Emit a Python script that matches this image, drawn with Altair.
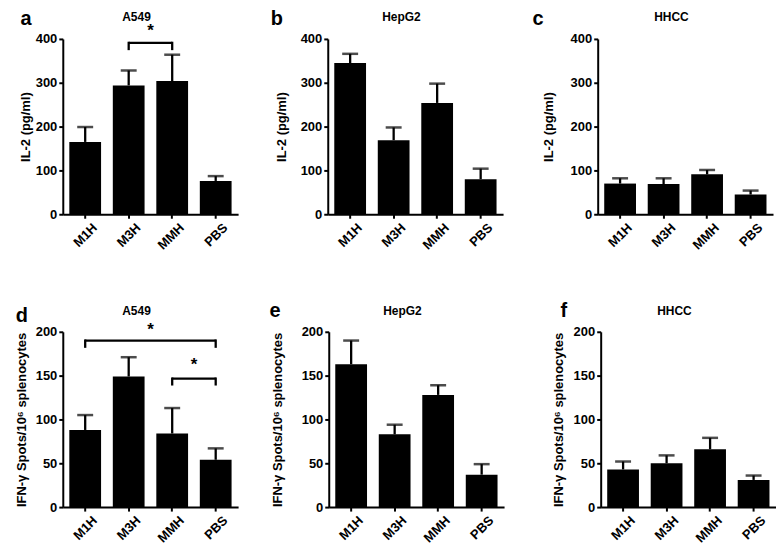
import altair as alt
import pandas as pd

# ---------------- data ----------------
categories = ["M1H", "M3H", "MMH", "PBS"]

il2_a549_mean = [165, 294, 304, 76]
il2_a549_sem = [34, 34, 60, 11]
il2_hepg2_mean = [345, 169, 254, 80]
il2_hepg2_sem = [21, 29, 44, 24]
il2_hhcc_mean = [70, 69, 91, 45]
il2_hhcc_sem = [12, 13, 10, 9]

ifn_a549_mean = [88, 149, 84, 54]
ifn_a549_sem = [17, 22, 29, 13]
ifn_hepg2_mean = [163, 83, 128, 37]
ifn_hepg2_sem = [27, 11, 11, 12]
ifn_hhcc_mean = [43, 50, 66, 31]
ifn_hhcc_sem = [9, 9, 13, 5]

il2_ticks = [0, 100, 200, 300, 400]
ifn_ticks = [0, 50, 100, 150, 200]

il2_title = "IL-2 (pg/ml)"
ifn_title = "IFN-\u03b3 Spots/10\u2076 splenocytes"

# significance brackets: start group, end group, bar level, end-drop level, star level, star group
a549_il2_brackets = [("M3H", "MMH", 391, 377, 417, "MMH")]
a549_ifn_brackets = [("M1H", "PBS", 190, 183, 202, "MMH"),
                     ("MMH", "PBS", 146.6, 140, 162, "PBS")]

# ---------------- styling ----------------
FONT = "Liberation Sans"
W, H = 176, 176
PI, PO = 0.27, 0.15
STEP = W / (4 - PI + 2 * PO)


def panel(letter, name, mean, sem, ticks, ytitle, brackets, letter_xy,
          title_y, left_extent, title_pad):
    df = pd.DataFrame({"group": categories, "mean": mean,
                       "top": [m + s for m, s in zip(mean, sem)]})
    xscale = alt.Scale(domain=categories, paddingInner=PI, paddingOuter=PO)
    yscale = alt.Scale(domain=[ticks[0], ticks[-1]], nice=False)
    xaxis = alt.Axis(title=None, labelAngle=-45, labelAlign="right",
                     labelBaseline="middle", labelFont=FONT, labelFontSize=13,
                     labelFontWeight="bold", labelColor="black",
                     labelPadding=7, labelOffset=10,
                     domainColor="black", domainWidth=2, tickColor="black",
                     tickWidth=2, tickSize=4, grid=False)
    yaxis = alt.Axis(title=ytitle, values=ticks, labelFont=FONT,
                     labelFontSize=13, labelFontWeight="bold",
                     labelColor="black", labelPadding=2,
                     titleFont=FONT, titleFontSize=13, titleFontWeight="bold",
                     titleColor="black", titlePadding=title_pad,
                     domainColor="black", domainWidth=2, tickColor="black",
                     tickWidth=2, tickSize=4, grid=False)
    base = alt.Chart(df)
    bars = base.mark_bar(color="black").encode(
        x=alt.X("group:N", scale=xscale, axis=xaxis),
        y=alt.Y("mean:Q", scale=yscale, axis=yaxis, title=ytitle))
    err = base.mark_rule(color="black", strokeWidth=2.3).encode(
        x=alt.X("group:N", title=None),
        y=alt.Y("mean:Q", title=ytitle), y2="top:Q")
    caps = base.mark_tick(color="black", orient="horizontal", size=16,
                          thickness=2.5).encode(
        x=alt.X("group:N", title=None), y=alt.Y("top:Q", title=ytitle))

    layers = [bars, err, caps]

    if brackets:
        br = pd.DataFrame(brackets, columns=["g1", "g2", "level", "low",
                                             "star", "starg"])
        drops = pd.DataFrame(
            [(b[0], b[2], b[3]) for b in brackets] +
            [(b[1], b[2], b[3]) for b in brackets],
            columns=["g", "level", "low"])
        hline = alt.Chart(br).mark_rule(color="black", strokeWidth=2.3).encode(
            x=alt.X("g1:N", title=None), x2="g2:N",
            y=alt.Y("level:Q", title=ytitle))
        vline = alt.Chart(drops).mark_rule(color="black", strokeWidth=2.3,
                                           strokeCap="square").encode(
            x=alt.X("g:N", title=None),
            y=alt.Y("level:Q", title=ytitle), y2="low:Q")
        stars = alt.Chart(br).mark_text(
            text="*", dx=-STEP / 2, font=FONT, fontSize=17, fontWeight="bold",
            color="black", baseline="middle").encode(
            x=alt.X("starg:N", title=None), y=alt.Y("star:Q", title=ytitle))
        layers += [hline, vline, stars]

    lab = pd.DataFrame({"t": [letter], "n": [name], "m": ["."]})
    letter_mark = alt.Chart(lab).mark_text(
        font=FONT, fontSize=20, fontWeight="bold", color="black",
        align="center", baseline="middle").encode(
        text="t:N", x=alt.value(letter_xy[0]), y=alt.value(letter_xy[1]))
    title_mark = alt.Chart(lab).mark_text(
        font=FONT, fontSize=12, fontWeight="bold", color="black",
        align="center", baseline="middle").encode(
        text="n:N", x=alt.value(74), y=alt.value(title_y))
    marker = alt.Chart(lab).mark_text(
        font=FONT, fontSize=8, color="white", align="left",
        baseline="middle").encode(
        text="m:N", x=alt.value(-left_extent), y=alt.value(0))
    layers += [letter_mark, title_mark, marker]

    return alt.layer(*layers).properties(width=W, height=H)


pa = panel("a", "A549", il2_a549_mean, il2_a549_sem, il2_ticks, il2_title,
           a549_il2_brackets, (-37, -20), -22, 43.5, 3)
pb = panel("b", "HepG2", il2_hepg2_mean, il2_hepg2_sem, il2_ticks, il2_title,
           None, (-51, -20), -22, 62, 12)
pc = panel("c", "HHCC", il2_hhcc_mean, il2_hhcc_sem, il2_ticks, il2_title,
           None, (-60, -20), -22, 66.4, 15)
pd_ = panel("d", "A549", ifn_a549_mean, ifn_a549_sem, ifn_ticks, ifn_title,
            a549_ifn_brackets, (-41, -16), -21, 54.3, 7)
pe = panel("e", "HepG2", ifn_hepg2_mean, ifn_hepg2_sem, ifn_ticks, ifn_title,
           None, (-54, -21), -21, 60.7, 17)
pf = panel("f", "HHCC", ifn_hhcc_mean, ifn_hhcc_sem, ifn_ticks, ifn_title,
           None, (-37, -21), -21, 66.3, 8)

top = alt.hconcat(pa, pb, pc, spacing=28)
bottom = alt.hconcat(pd_, pe, pf, spacing=30)

chart = alt.vconcat(top, bottom, spacing=49).properties(
    padding=0
).configure_view(stroke=None)

chart.save("out.html", embed_options={"renderer": "svg", "actions": False})
